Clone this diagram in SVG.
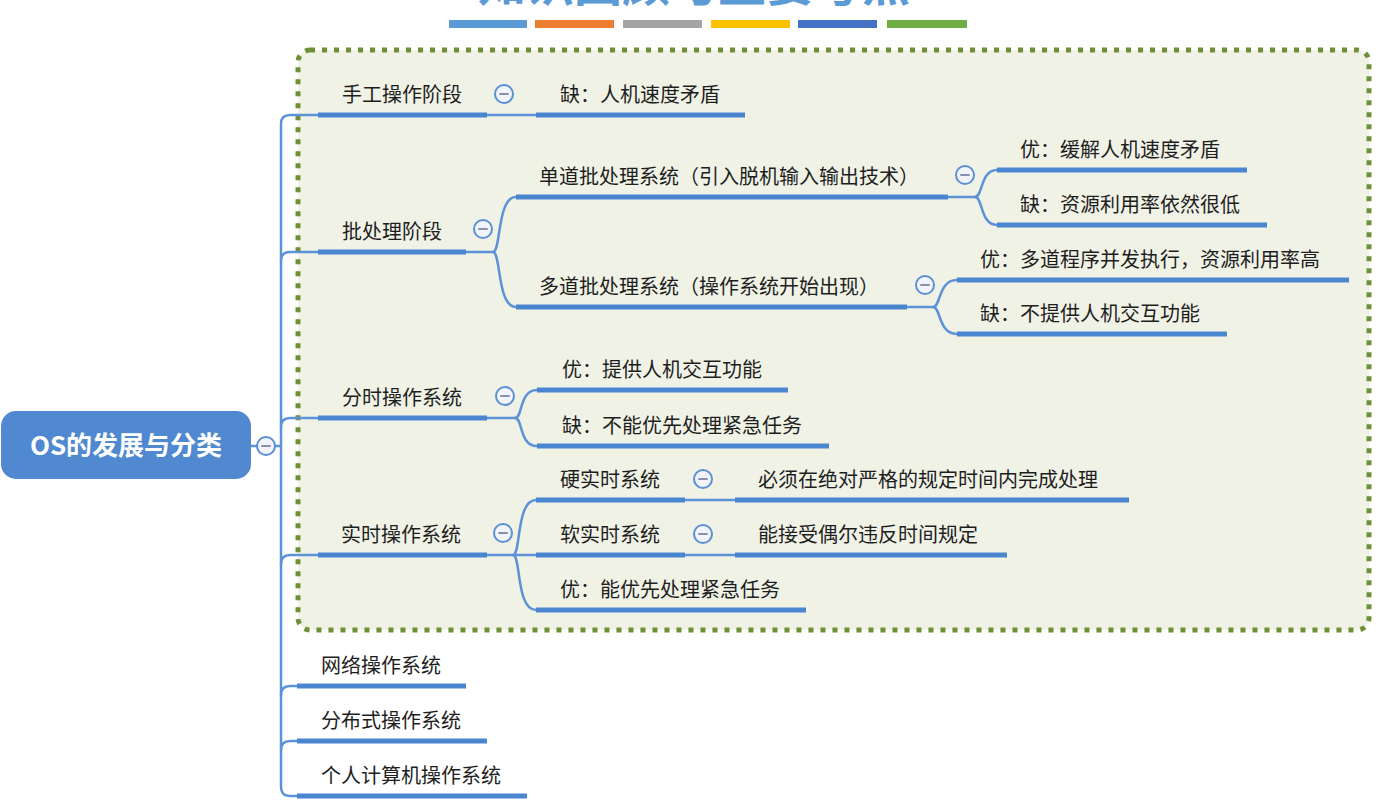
<svg xmlns="http://www.w3.org/2000/svg" width="1383" height="803" viewBox="0 0 1383 803">
<style>
  text { font-family: "Noto Sans CJK SC", "Noto Sans", sans-serif; }
  .t { font-size: 20px; fill: #1e1e1e; }
  .ul { stroke: #4a86cf; stroke-width: 5; fill: none; }
  .cn { stroke: #5b92d8; stroke-width: 2.5; fill: none; stroke-linecap: round; }
  .cc { fill: #f3f4fb; stroke: #5b8fd6; stroke-width: 2; }
  .cm { stroke: #8692ad; stroke-width: 2; stroke-linecap: round; }
  .bar { stroke: none; }
</style>
<defs>
  <g id="collapse">
    <circle class="cc" cx="0" cy="0" r="9"/>
    <line class="cm" x1="-4" y1="0" x2="4" y2="0"/>
  </g>
</defs>
<rect x="0" y="0" width="1383" height="803" fill="#ffffff"/>

<g id="title">
  <text x="694" y="1" text-anchor="middle" font-size="48" font-weight="bold" fill="#5b9bd5">知识回顾与重要考点</text>
  <rect class="bar" x="449" y="20" width="78" height="8" fill="#5b9bd5"/>
  <rect class="bar" x="535" y="20" width="79" height="8" fill="#ed7d31"/>
  <rect class="bar" x="623" y="20" width="79" height="8" fill="#a5a5a5"/>
  <rect class="bar" x="711" y="20" width="79" height="8" fill="#ffc000"/>
  <rect class="bar" x="798" y="20" width="79" height="8" fill="#4472c4"/>
  <rect class="bar" x="887" y="20" width="80" height="8" fill="#70ad47"/>
</g>

<g id="boundary">
  <rect x="298" y="50" width="1071" height="580" rx="12" ry="12" fill="#f0f2e6" stroke="#6f9038" stroke-width="5" stroke-dasharray="5 7"/>
</g>

<g id="connectors">
  <path class="cn" d="M 250 446 H 257"/>
  <path class="cn" d="M 275 446 H 281"/>
  <path class="cn" d="M 318 115 H 290 Q 281 115 281 124 V 787 Q 281 796 290 796 H 297"/>
  <path class="cn" d="M 281 261 Q 281 252 290 252 H 318"/>
  <path class="cn" d="M 281 427 Q 281 418 290 418 H 318"/>
  <path class="cn" d="M 281 564 Q 281 555 290 555 H 318"/>
  <path class="cn" d="M 281 695 Q 281 686 290 686 H 297"/>
  <path class="cn" d="M 281 750 Q 281 741 290 741 H 297"/>
  <path class="cn" d="M 487 115 H 536"/>
  <path class="cn" d="M 466 252 H 493 C 501 252 497 197 516 197"/>
  <path class="cn" d="M 493 252 C 501 252 497 307 516 307"/>
  <path class="cn" d="M 948 197 H 975 C 983 197 980 170 997 170"/>
  <path class="cn" d="M 975 197 C 983 197 980 225 997 225"/>
  <path class="cn" d="M 907 307 H 933 C 941 307 938 280 957 280"/>
  <path class="cn" d="M 933 307 C 941 307 938 334 957 334"/>
  <path class="cn" d="M 487 418 H 515 C 523 418 519 390 537 390"/>
  <path class="cn" d="M 515 418 C 523 418 519 446 537 446"/>
  <path class="cn" d="M 487 555 H 536"/>
  <path class="cn" d="M 513 555 C 521 555 516 500 536 500"/>
  <path class="cn" d="M 513 555 C 521 555 516 610 536 610"/>
  <path class="cn" d="M 685 500 H 735"/>
  <path class="cn" d="M 685 555 H 735"/>
</g>

<g id="root">
  <rect x="1" y="411" width="250" height="68" rx="15" ry="15" fill="#5089d0"/>
  <text x="126" y="455" text-anchor="middle" font-size="26" font-weight="bold" fill="#ffffff">OS的发展与分类</text>
  <use href="#collapse" x="266" y="446"/>
</g>

<g id="n-manual">
  <text class="t" x="342" y="102">手工操作阶段</text>
  <line class="ul" x1="318" y1="115" x2="487" y2="115"/>
  <use href="#collapse" x="504" y="94"/>
</g>
<g id="n-manual-con">
  <text class="t" x="560" y="102">缺：人机速度矛盾</text>
  <line class="ul" x1="536" y1="115" x2="745" y2="115"/>
</g>

<g id="n-batch">
  <text class="t" x="342" y="239">批处理阶段</text>
  <line class="ul" x1="318" y1="252" x2="466" y2="252"/>
  <use href="#collapse" x="483" y="229"/>
</g>
<g id="n-single">
  <text class="t" x="539" y="184">单道批处理系统（引入脱机输入输出技术）</text>
  <line class="ul" x1="516" y1="197" x2="948" y2="197"/>
  <use href="#collapse" x="965" y="175"/>
</g>
<g id="n-single-pro">
  <text class="t" x="1020" y="157">优：缓解人机速度矛盾</text>
  <line class="ul" x1="997" y1="170" x2="1247" y2="170"/>
</g>
<g id="n-single-con">
  <text class="t" x="1020" y="212">缺：资源利用率依然很低</text>
  <line class="ul" x1="997" y1="225" x2="1267" y2="225"/>
</g>
<g id="n-multi">
  <text class="t" x="539" y="294">多道批处理系统（操作系统开始出现）</text>
  <line class="ul" x1="516" y1="307" x2="907" y2="307"/>
  <use href="#collapse" x="925" y="285"/>
</g>
<g id="n-multi-pro">
  <text class="t" x="980" y="267">优：多道程序并发执行，资源利用率高</text>
  <line class="ul" x1="957" y1="280" x2="1349" y2="280"/>
</g>
<g id="n-multi-con">
  <text class="t" x="980" y="321">缺：不提供人机交互功能</text>
  <line class="ul" x1="957" y1="334" x2="1227" y2="334"/>
</g>

<g id="n-timeshare">
  <text class="t" x="342" y="405">分时操作系统</text>
  <line class="ul" x1="318" y1="418" x2="487" y2="418"/>
  <use href="#collapse" x="505" y="396"/>
</g>
<g id="n-timeshare-pro">
  <text class="t" x="562" y="377">优：提供人机交互功能</text>
  <line class="ul" x1="537" y1="390" x2="788" y2="390"/>
</g>
<g id="n-timeshare-con">
  <text class="t" x="562" y="433">缺：不能优先处理紧急任务</text>
  <line class="ul" x1="537" y1="446" x2="829" y2="446"/>
</g>

<g id="n-realtime">
  <text class="t" x="341" y="542">实时操作系统</text>
  <line class="ul" x1="318" y1="555" x2="487" y2="555"/>
  <use href="#collapse" x="503" y="533"/>
</g>
<g id="n-hard">
  <text class="t" x="560" y="487">硬实时系统</text>
  <line class="ul" x1="536" y1="500" x2="685" y2="500"/>
  <use href="#collapse" x="703" y="479"/>
</g>
<g id="n-hard-desc">
  <text class="t" x="758" y="487">必须在绝对严格的规定时间内完成处理</text>
  <line class="ul" x1="735" y1="500" x2="1129" y2="500"/>
</g>
<g id="n-soft">
  <text class="t" x="560" y="542">软实时系统</text>
  <line class="ul" x1="536" y1="555" x2="685" y2="555"/>
  <use href="#collapse" x="703" y="534"/>
</g>
<g id="n-soft-desc">
  <text class="t" x="758" y="542">能接受偶尔违反时间规定</text>
  <line class="ul" x1="735" y1="555" x2="1007" y2="555"/>
</g>
<g id="n-realtime-pro">
  <text class="t" x="560" y="597">优：能优先处理紧急任务</text>
  <line class="ul" x1="536" y1="610" x2="806" y2="610"/>
</g>

<g id="n-network">
  <text class="t" x="321" y="673">网络操作系统</text>
  <line class="ul" x1="297" y1="686" x2="466" y2="686"/>
</g>
<g id="n-distributed">
  <text class="t" x="321" y="728">分布式操作系统</text>
  <line class="ul" x1="297" y1="741" x2="487" y2="741"/>
</g>
<g id="n-personal">
  <text class="t" x="321" y="783">个人计算机操作系统</text>
  <line class="ul" x1="297" y1="796" x2="527" y2="796"/>
</g>
</svg>
